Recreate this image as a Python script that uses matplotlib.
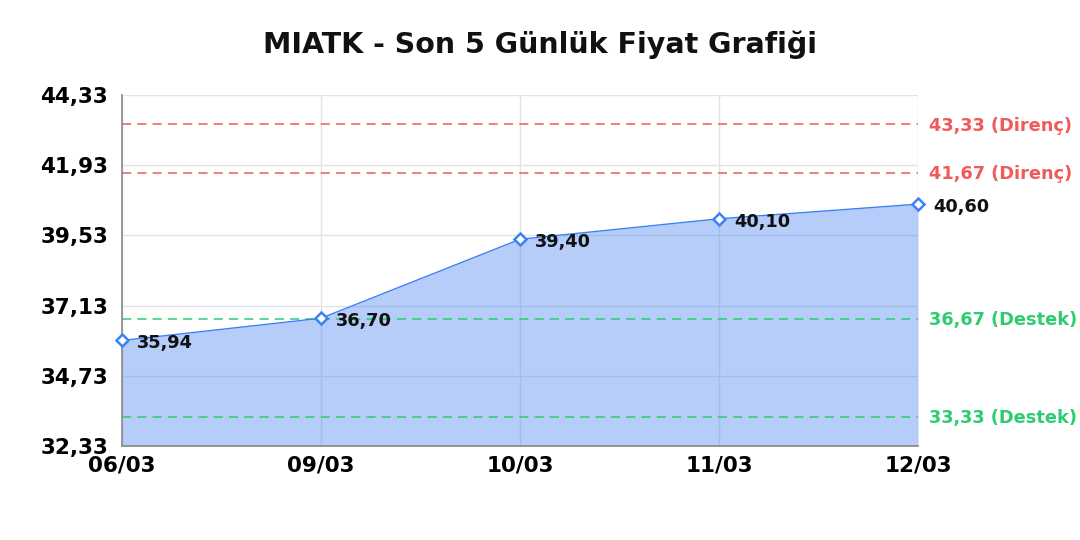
import matplotlib
matplotlib.use("Agg")
import matplotlib.pyplot as plt
import numpy as np

plt.rcParams["font.family"] = ["DejaVu Sans"]

dates = ["06/03", "09/03", "10/03", "11/03", "12/03"]
prices = [35.94, 36.70, 39.40, 40.10, 40.60]
resistance = [43.33, 41.67]
support = [36.67, 33.33]
yticks = [32.33, 34.73, 37.13, 39.53, 41.93, 44.33]
title = "MIATK - Son 5 Günlük Fiyat Grafiği"

def fmt(v):
    return f"{v:.2f}".replace(".", ",")

fig = plt.figure(figsize=(10.8, 5.4), dpi=100)
ax = fig.add_axes([0.113, 0.174, 0.737, 0.650])
x = np.arange(len(dates))

ax.fill_between(x, prices, yticks[0], color=(70/255, 132/255, 238/255), alpha=0.4,
                lw=0, zorder=1)
ax.plot(x, prices, color="#3b82f6", lw=1.0, zorder=3)
ax.plot(x, prices, ls="none", marker="D", ms=6.5, mfc="white", mec="#3b82f6", mew=1.8,
        zorder=4, clip_on=False)

for xi, v in zip(x, prices):
    ax.annotate(fmt(v), (xi, v), xytext=(11, -2), textcoords="offset points",
                ha="left", va="center", fontsize=12.8, fontweight="bold", color="#111111", zorder=5)

red = "#f05a5a"
green = "#2ecc71"
for r in resistance:
    ax.axhline(r, color=red, ls=(0, (6, 4)), lw=1.1, zorder=2)
    ax.annotate(f"{fmt(r)} (Direnç)", (1, r), xycoords=("axes fraction", "data"),
                xytext=(8, -1), textcoords="offset points", ha="left", va="center",
                fontsize=12.8, fontweight="bold", color=red)
for s in support:
    ax.axhline(s, color=green, ls=(0, (6, 4)), lw=1.1, zorder=2)
    ax.annotate(f"{fmt(s)} (Destek)", (1, s), xycoords=("axes fraction", "data"),
                xytext=(8, -1), textcoords="offset points", ha="left", va="center",
                fontsize=12.8, fontweight="bold", color=green)

ax.set_xlim(0, len(dates) - 1)
ax.set_ylim(yticks[0], yticks[-1])
ax.set_xticks(x)
ax.set_xticklabels(dates)
ax.set_yticks(yticks)
ax.set_yticklabels([fmt(t) for t in yticks])
for lab in ax.get_xticklabels() + ax.get_yticklabels():
    lab.set_fontweight("bold")
    lab.set_fontsize(15.5)
ax.tick_params(length=0)
ax.tick_params(axis="y", pad=10)
ax.tick_params(axis="x", pad=7)
ax.grid(True, color="#e3e3e3", lw=1.0, zorder=0)
ax.set_axisbelow(True)
for sp in ["top", "right"]:
    ax.spines[sp].set_visible(False)
for sp in ["left", "bottom"]:
    ax.spines[sp].set_color("#888888")
    ax.spines[sp].set_linewidth(1.2)

fig.text(0.5, 0.918, title, ha="center", va="center", fontsize=20.5, fontweight="bold", color="#111111")

fig.savefig("out.png", dpi=100)
